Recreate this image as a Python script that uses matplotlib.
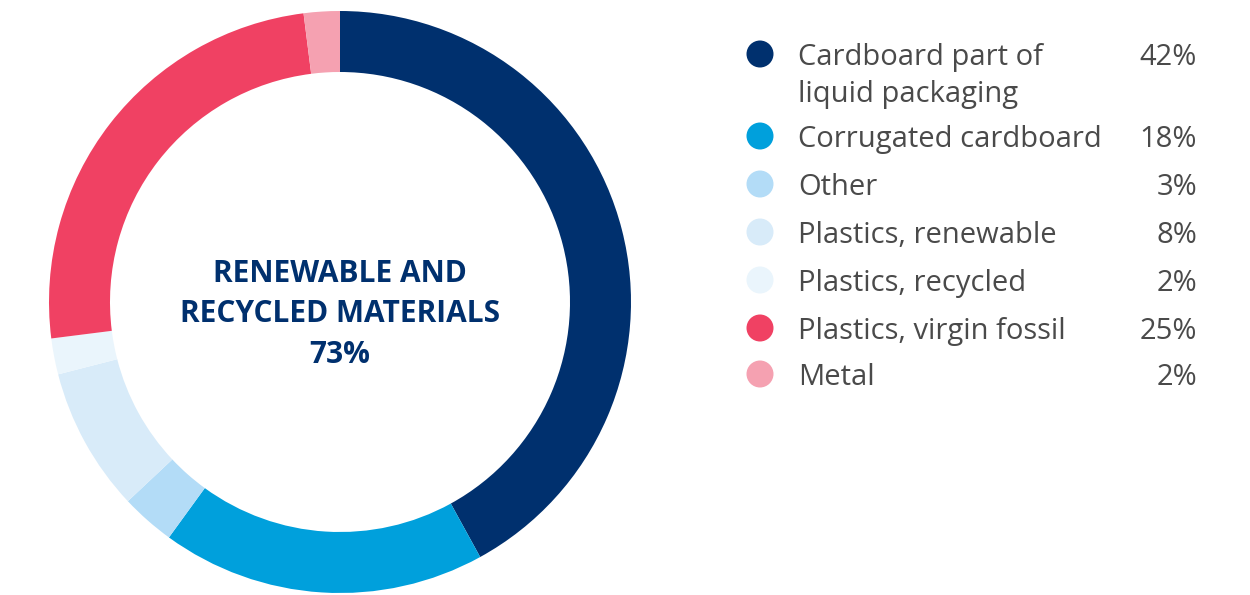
import matplotlib.pyplot as plt
from matplotlib.patches import Circle

# Material shares of packaging (percent)
labels = [
    'Cardboard part of\nliquid packaging',
    'Corrugated cardboard',
    'Other',
    'Plastics, renewable',
    'Plastics, recycled',
    'Plastics, virgin fossil',
    'Metal',
]
shares = [42, 18, 3, 8, 2, 25, 2]
colors = ['#00306E', '#00A0DC', '#B3DCF7', '#D8EBF9', '#EAF5FC', '#F04163', '#F5A1B1']
center_lines = ['RENEWABLE AND', 'RECYCLED MATERIALS', '73%']

NAVY = '#00306E'
GREY = '#4A4A4A'
FONT = 'Open Sans'

W, H = 1250, 595
fig = plt.figure(figsize=(W / 100, H / 100), dpi=100)
ax = fig.add_axes([0, 0, 1, 1])

# Donut
cx, cy, r = 340, H - 302, 291
ax.pie(
    shares,
    colors=colors,
    startangle=90,
    counterclock=False,
    center=(cx, cy),
    radius=r,
    frame=True,
    wedgeprops=dict(width=61, linewidth=0),
)
ax.set_xlim(0, W)
ax.set_ylim(0, H)
ax.set_aspect('equal')
ax.axis('off')

# Centre caption
for i, line in enumerate(center_lines):
    ax.text(cx, H - 274 - i * 40.5, line, ha='center', va='center',
            fontsize=21.5, fontweight='bold', color=NAVY, family=FONT)

# Legend rows
row_y = [54, 136, 184, 232, 280, 328, 374]
for y, lab, val, col in zip(row_y, labels, shares, colors):
    yy = H - y
    ax.add_patch(Circle((760, yy), 13.5, facecolor=col, edgecolor='none'))
    for j, part in enumerate(lab.split('\n')):
        ax.text(798, yy - j * 37, part, ha='left', va='center_baseline',
                fontsize=21, color=GREY, family=FONT)
    ax.text(1197, yy, f'{val}%', ha='right', va='center_baseline',
            fontsize=21, color=GREY, family=FONT)

fig.savefig('out.png', dpi=100, facecolor='white')
